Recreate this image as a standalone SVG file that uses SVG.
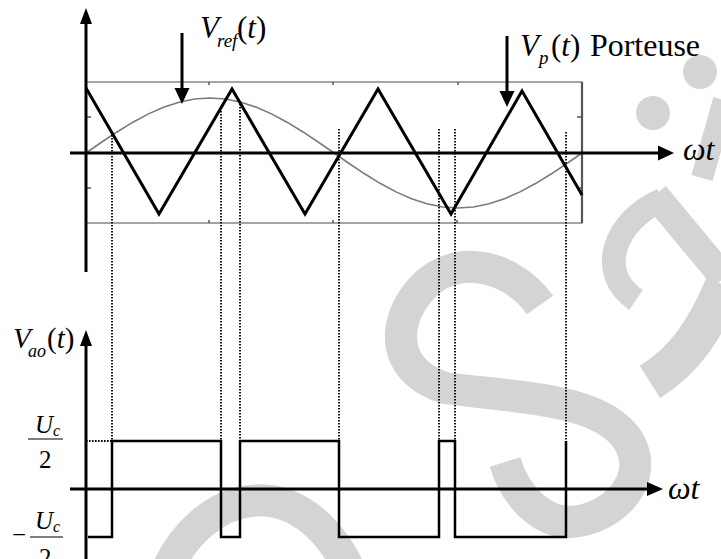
<svg xmlns="http://www.w3.org/2000/svg" width="721" height="559" viewBox="0 0 721 559">
<style>
.ax{stroke:#000;stroke-width:3;fill:none}
.wave{stroke:#000;stroke-width:3;fill:none;stroke-linejoin:miter}
.sq{stroke:#000;stroke-width:2.5;fill:none;stroke-linejoin:miter}
.dot{stroke:#000;stroke-width:1.8;stroke-dasharray:1.6 1.4;fill:none}
.box{stroke:#6a6a6a;stroke-width:1.2;fill:none}
.sine{stroke:#7a7a7a;stroke-width:1.6;fill:none}
.head{fill:#000}
.t{font-family:Liberation Serif, serif;fill:#000}
.it{font-style:italic}
.wm{stroke:#d4d4d4;fill:none;stroke-linecap:butt}
</style>
<rect width="721" height="559" fill="#fff"/>
<g id="watermark">
  <path class="wm" stroke-width="32" d="M540,305 C510,262 440,245 407,310 C392,345 405,375 445,388 C520,398 600,398 628,440 C652,480 612,520 570,522 C540,522 515,495 505,462"/>
  <path class="wm" stroke-width="32" d="M165,575 C200,490 300,462 352,575"/>
  <circle cx="700" cy="72" r="17" fill="#d4d4d4"/>
  <circle cx="653" cy="113" r="17" fill="#d4d4d4"/>
  <path class="wm" stroke-width="22" d="M724,100 L702,178"/>
  <path class="wm" stroke-width="24" d="M662,200 C615,220 595,272 636,300"/>
  <path class="wm" stroke-width="28" d="M655,195 L724,278"/>
  <path class="wm" stroke-width="38" d="M724,285 C705,330 685,360 650,382"/>
</g>
<g id="top-plot">
  <rect class="box" x="86" y="82" width="496" height="141"/>
  <line x1="582" y1="82" x2="582" y2="223" stroke="#555" stroke-width="2.2"/>
  <g stroke="#555" stroke-width="1.5">
    <line x1="209" y1="82" x2="209" y2="85"/><line x1="333" y1="82" x2="333" y2="85"/><line x1="458" y1="82" x2="458" y2="85"/>
    <line x1="209" y1="223" x2="209" y2="220"/><line x1="333" y1="223" x2="333" y2="220"/><line x1="457" y1="223" x2="457" y2="220"/>
    <line x1="86" y1="117" x2="91" y2="117"/><line x1="86" y1="188" x2="91" y2="188"/>
    <line x1="582" y1="117" x2="577" y2="117"/><line x1="582" y1="188" x2="577" y2="188"/>
  </g>
  <polyline class="sine" points="86,153 101.5,142.27 117,131.95 132.5,122.44 148,114.11 163.5,107.27 179,102.19 194.5,99.06 210,98 225.5,99.06 241,102.19 256.5,107.27 272,114.11 287.5,122.44 303,131.95 318.5,142.27 334,153 349.5,163.73 365,174.05 380.5,183.56 396,191.89 411.5,198.73 427,203.81 442.5,206.94 458,208 473.5,206.94 489,203.81 504.5,198.73 520,191.89 535.5,183.56 551,174.05 566.5,163.73 582,153"/>
  <polyline class="wave" points="86,88 159,214 232,89 305,214 378,89 451,214 522,91 582,195"/>
</g>
<g id="connectors">
  <line class="dot" x1="112" y1="132" x2="112" y2="441"/>
  <line class="dot" x1="221" y1="108" x2="221" y2="536"/>
  <line class="dot" x1="240" y1="104" x2="240" y2="441"/>
  <line class="dot" x1="339" y1="129" x2="339" y2="441"/>
  <line class="dot" x1="439" y1="129" x2="439" y2="489"/>
  <line class="dot" x1="455" y1="129" x2="455" y2="489"/>
  <line class="dot" x1="566" y1="132" x2="566" y2="441"/>
  <line class="dot" x1="86" y1="441" x2="112" y2="441"/>
</g>
<g id="top-axes">
  <line class="ax" x1="86" y1="20" x2="86" y2="272" stroke-width="3.5"/>
  <polygon class="head" points="86,8 80,24 92,24"/>
  <line class="ax" x1="70" y1="153" x2="660" y2="153"/>
  <polygon class="head" points="674,153 658,145.5 658,160.5"/>
  <text class="t it" x="683" y="160" font-size="32">ωt</text>
</g>
<g id="vref-label">
  <line class="ax" x1="182" y1="33" x2="182" y2="92"/>
  <polygon class="head" points="182,104 174.5,88 189.5,88"/>
  <text class="t" x="200" y="38" font-size="31"><tspan class="it">V</tspan><tspan class="it" font-size="19" x="217" dy="9">ref</tspan><tspan x="237" dy="-9">(</tspan><tspan class="it">t</tspan><tspan>)</tspan></text>
</g>
<g id="vp-label">
  <line class="ax" x1="507" y1="36" x2="507" y2="95"/>
  <polygon class="head" points="507,107 499.5,91 514.5,91"/>
  <text class="t" x="520" y="56" font-size="31"><tspan class="it">V</tspan><tspan class="it" font-size="19" x="539" dy="8">p</tspan><tspan x="551" dy="-8">(</tspan><tspan class="it">t</tspan><tspan>)</tspan><tspan x="590" textLength="110" lengthAdjust="spacingAndGlyphs">Porteuse</tspan></text>
</g>
<g id="bottom-plot">
  <line class="ax" x1="86" y1="342" x2="86" y2="559"/>
  <polygon class="head" points="86,330 80,346 92,346"/>
  <line class="ax" x1="70" y1="489" x2="650" y2="489"/>
  <polygon class="head" points="663,489 647,482 647,496"/>
  <text class="t it" x="668" y="499" font-size="32">ωt</text>
  <polyline class="sq" points="88,537 112,537 112,441 221,441 221,537 240,537 240,441 339,441 339,537 439,537 439,441 455,441 455,537 566,537 566,441"/>
</g>
<g id="vao-label">
  <text class="t" x="13" y="348" font-size="29"><tspan class="it">V</tspan><tspan class="it" font-size="18" x="28" dy="9">ao</tspan><tspan x="47" dy="-9">(</tspan><tspan class="it">t</tspan><tspan>)</tspan></text>
</g>
<g id="plus-uc2">
  <text class="t it" x="35" y="433" font-size="25">U<tspan font-size="16" dy="3">c</tspan></text>
  <line x1="28" y1="439" x2="63" y2="439" stroke="#000" stroke-width="1.2"/>
  <text class="t" x="39" y="468" font-size="25">2</text>
</g>
<g id="minus-uc2">
  <text class="t" x="12" y="543" font-size="25">−</text>
  <text class="t it" x="35" y="529" font-size="25">U<tspan font-size="16" dy="3">c</tspan></text>
  <line x1="30" y1="537" x2="63" y2="537" stroke="#000" stroke-width="1.2"/>
  <text class="t" x="39" y="566" font-size="25">2</text>
</g>
</svg>
